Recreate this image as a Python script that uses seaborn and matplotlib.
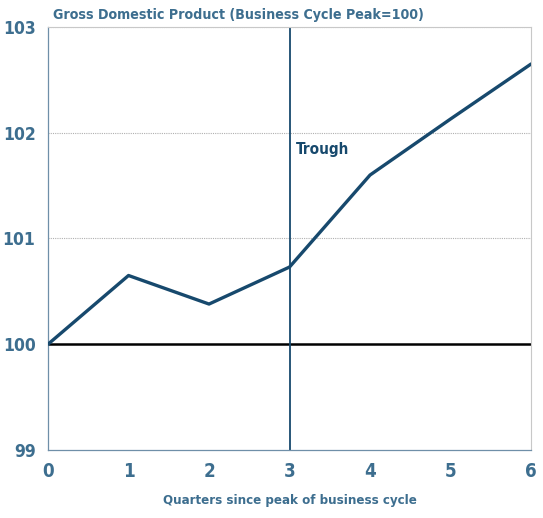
import matplotlib
matplotlib.use("Agg")
import matplotlib.pyplot as plt
import seaborn as sns
import pandas as pd

quarters = [0, 1, 2, 3, 4, 5, 6]
gdp = [100.0, 100.65, 100.38, 100.73, 101.6, 102.13, 102.65]
x_ticks = [0, 1, 2, 3, 4, 5, 6]
y_ticks = [99, 100, 101, 102, 103]

sns.set_style("white")
plt.rcParams['font.family'] = ['DejaVu Sans']

txt = "#3d6e8f"
line_c = "#17496d"
cond = dict(fontweight="bold", fontstretch="condensed")

fig = plt.figure(figsize=(5.43, 5.18), dpi=100)
ax = fig.add_axes([0.0884, 0.1313, 0.8896, 0.8166])
df = pd.DataFrame({"q": quarters, "v": gdp})

for y in [101, 102, 103]:
    ax.axhline(y, color="#b0b0b0", lw=0.8, ls=(0, (1, 1)), zorder=0)
ax.axhline(100, color="black", lw=1.8, zorder=1)
ax.axvline(3, color=line_c, lw=1.3, zorder=2)
sns.lineplot(data=df, x="q", y="v", color=line_c, lw=2.4, ax=ax, zorder=3)

ax.set_xlim(0, 6)
ax.set_ylim(99, 103)
ax.set_xticks(x_ticks)
ax.set_yticks(y_ticks)
ax.set_xticklabels([str(t) for t in x_ticks], fontsize=13.5, color=txt, **cond)
ax.set_yticklabels([str(t) for t in y_ticks], fontsize=12.5, color=txt, **cond)
ax.tick_params(axis="x", direction="in", length=4, color="#6f8fa8", pad=9)
ax.tick_params(axis="y", length=0, pad=9)
ax.set_xlabel("Quarters since peak of business cycle", fontsize=9.5, color=txt, labelpad=9, **cond)
ax.set_ylabel("")

for s in ["left", "bottom"]:
    ax.spines[s].set_color("#6f8fa8")
    ax.spines[s].set_linewidth(0.9)
for s in ["right", "top"]:
    ax.spines[s].set_color("#c8c8c8")
    ax.spines[s].set_linewidth(0.8)

ax.text(3.08, 101.8, "Trough", fontsize=11, color=line_c, **cond)
fig.text(0.098, 0.957, "Gross Domestic Product (Business Cycle Peak=100)", fontsize=10.2, color=txt, va="bottom", **cond)

fig.savefig("out.png", dpi=100)
